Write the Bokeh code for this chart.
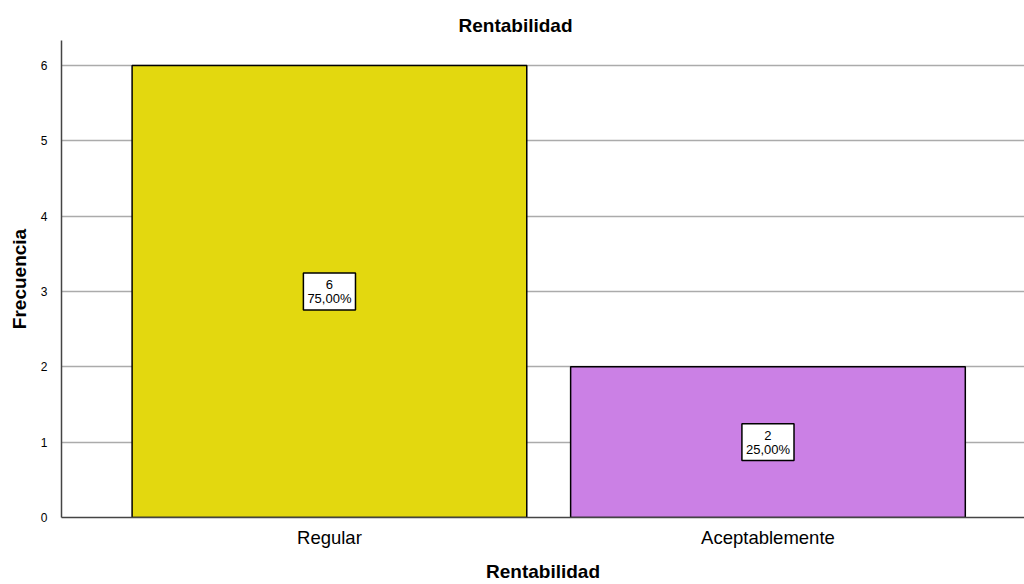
from bokeh.plotting import figure
from bokeh.models import ColumnDataSource, Range1d, FixedTicker
from bokeh.core.properties import value
from bokeh.embed import file_html
from bokeh.resources import INLINE

categories = ["Regular", "Aceptablemente"]
counts = [6, 2]
percents = ["75,00%", "25,00%"]
colors = ["#E3D80F", "#CB80E5"]
y_ticks = [0, 1, 2, 3, 4, 5, 6]

idx = list(range(len(categories)))
src = ColumnDataSource(dict(
    x=idx,
    top=counts,
    mid=[c / 2 for c in counts],
    color=colors,
    label=[f"{c}\n{p}" for c, p in zip(counts, percents)],
))

p = figure(width=1024, height=584, output_backend="svg", toolbar_location=None,
           x_range=Range1d(-0.611, 1.585), y_range=Range1d(0, 6.332),
           min_border_left=61, min_border_right=0, min_border_top=40, min_border_bottom=67)
p.outline_line_color = None
p.background_fill_color = "white"

p.title.text = "Rentabilidad"
p.title.align = "left"
p.title.offset = 397
p.title.text_font = "Liberation Sans"
p.title.text_font_size = "19px"
p.title.text_font_style = "bold"
p.title.text_color = "black"
p.title.standoff = 10

p.vbar(x="x", top="top", width=0.9, bottom=0, fill_color="color",
       line_color="black", line_width=1.5, source=src)

p.text(x="x", y="mid", text="label", source=src,
       text_align="center", text_baseline="middle",
       text_font=value("Liberation Sans"), text_font_size="13px", text_color="black",
       text_line_height=0.92,
       background_fill_color="white", border_line_color="black",
       border_line_width=1.5, padding=4)

p.xgrid.grid_line_color = None
p.ygrid.grid_line_color = "#ABABAB"
p.ygrid.grid_line_width = 1.5
p.ygrid.ticker = FixedTicker(ticks=y_ticks)

p.yaxis.ticker = FixedTicker(ticks=y_ticks)
p.xaxis.ticker = FixedTicker(ticks=idx)
p.xaxis.major_label_overrides = {i: c for i, c in enumerate(categories)}

for ax in (p.xaxis, p.yaxis):
    ax.axis_line_color = "#444444"
    ax.axis_line_width = 1.5
    ax.major_tick_line_color = None
    ax.minor_tick_line_color = None
    ax.major_label_text_font = "Liberation Sans"
    ax.major_label_text_color = "black"
    ax.axis_label_text_font = "Liberation Sans"
    ax.axis_label_text_font_style = "bold"
    ax.axis_label_text_font_size = "19px"
    ax.axis_label_text_color = "black"

p.yaxis.major_label_text_font_size = "12px"
p.yaxis.major_label_standoff = 8
p.yaxis.axis_label = "Frecuencia"
p.yaxis.axis_label_standoff = 8

p.xaxis.major_label_text_font_size = "18.5px"
p.xaxis.major_label_standoff = 3
p.xaxis.axis_label = "Rentabilidad"
p.xaxis.axis_label_standoff = 10

open("out.html", "w").write(file_html(p, INLINE))
